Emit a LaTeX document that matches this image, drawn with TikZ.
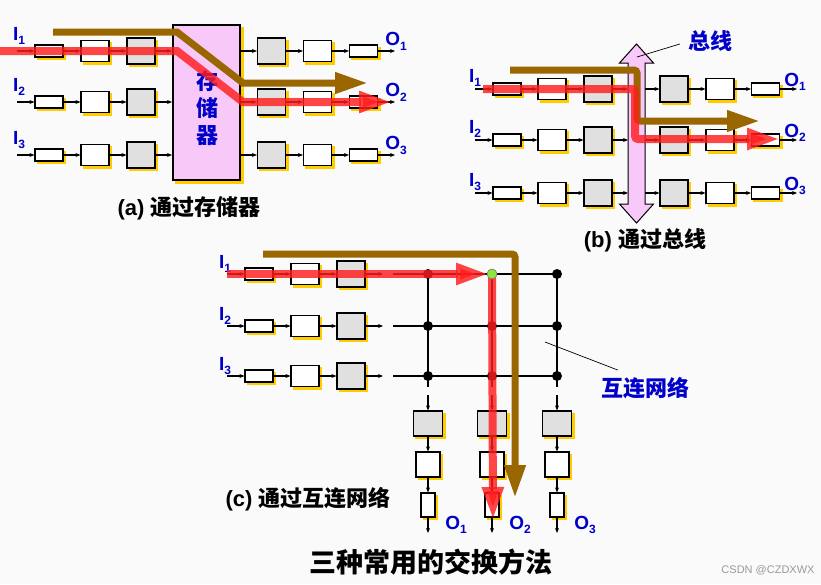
\documentclass[tikz,border=0pt]{standalone}
\usepackage{fontspec}
\setmainfont{Liberation Sans}
\newfontfamily\cjk{Noto Sans CJK SC}
\usetikzlibrary{arrows.meta}

\definecolor{shadowy}{RGB}{255,204,0}
\definecolor{boxgray}{RGB}{224,224,224}
\definecolor{mempink}{RGB}{248,200,248}
\definecolor{pathbrown}{RGB}{153,102,0}
\definecolor{pathred}{RGB}{255,30,30}
\definecolor{lblblue}{RGB}{0,0,200}
\definecolor{dotgreen}{RGB}{140,230,60}
\definecolor{bgwhite}{RGB}{250,250,250}

\newcommand{\lbl}[2]{#1\raisebox{-0.45ex}{\fontsize{12}{12}\selectfont #2}}
\newcommand{\zh}[1]{{\cjk #1}}

\tikzset{
	blk/.style={draw, line width=1.2pt, inner sep=0pt,
		preaction={draw=shadowy, fill=shadowy, transform canvas={xshift=2.5pt, yshift=-2.5pt}}},
	sbox/.style={blk, fill=white, minimum width=28pt, minimum height=12pt},
	mbox/.style={blk, fill=white, minimum width=28pt, minimum height=21pt},
	gbox/.style={blk, fill=boxgray, minimum width=28pt, minimum height=26pt},
	csbox/.style={blk, fill=white, minimum width=14pt, minimum height=24pt},
	cmbox/.style={blk, fill=white, minimum width=24pt, minimum height=25pt},
	cgbox/.style={blk, fill=boxgray, minimum width=29pt, minimum height=25pt},
	membox/.style={draw, line width=2pt, inner sep=0pt, fill=mempink, minimum width=67pt, minimum height=155pt,
		preaction={draw=shadowy, fill=shadowy, transform canvas={xshift=3pt, yshift=-3pt}}},
	memtxt/.style={font=\cjk\bfseries\fontsize{22}{27}\selectfont, text=lblblue, align=center},
	conn/.style={line width=1.1pt, -{Stealth[length=5pt,width=4pt]}},
	wire/.style={line width=2pt},
	jdot/.style={circle, fill=black, inner sep=0pt, minimum size=10pt},
	lab/.style={font=\fontsize{19}{19}\selectfont\bfseries, text=lblblue, inner sep=0pt},
	captext/.style={font=\fontsize{22}{24}\selectfont\bfseries, inner sep=0pt},
	brownpath/.style={pathbrown, line width=7pt, -{Triangle[length=33pt,width=20pt]}},
	redpath/.style={pathred, opacity=0.82, line width=8pt, -{Triangle[length=33pt,width=20pt]}},
	busarrow/.style={draw=black, line width=1pt, fill=mempink},
	leader/.style={line width=0.7pt}
}

\begin{document}
\begin{tikzpicture}[x=1pt,y=-1pt]
	\fill[bgwhite] (0,0) rectangle (821,584);
	\useasboundingbox (0,0) rectangle (821,584);

	% (a) through memory
	\node[membox] (mem) at (206.5,102.5) {};
	\node[memtxt] (memlab) at (207,108) {存\\储\\器};
	\foreach \r/\y in {1/51,2/102,3/155}{
		\coordinate (ain\r) at (17,\y);
		\coordinate (aout\r) at (395,\y);
		\node[sbox] (as\r) at (49,\y) {};
		\node[mbox] (am\r) at (95,\y) {};
		\node[gbox] (ag\r) at (141,\y) {};
		\node[gbox] (ah\r) at (271.5,\y) {};
		\node[mbox] (an\r) at (317.5,\y) {};
		\node[sbox] (at\r) at (363.5,\y) {};
		\draw[conn] (ain\r) -- (as\r);
		\draw[conn] (as\r) -- (am\r);
		\draw[conn] (am\r) -- (ag\r);
		\draw[conn] (ag\r) -- (ag\r -| mem.west);
		\draw[conn] (ah\r -| mem.east) -- (ah\r);
		\draw[conn] (ah\r) -- (an\r);
		\draw[conn] (an\r) -- (at\r);
		\draw[conn] (at\r) -- (aout\r);
		\node[lab] (aI\r) at (19,\y-15) {\lbl{I}{\r}};
		\node[lab] (aO\r) at (396,\y-9.5) {\lbl{O}{\r}};
	}
	\draw[brownpath] (53,32) -- (177,32) -- (243,83) -- (368,83);
	\draw[redpath] (0,51) -- (177,51) -- (243,102) -- (392,102);
	\node[captext] (acap) at (189,208) {(a) \zh{通过存储器}};

	% (b) through bus
	\coordinate (busL) at (628,0);
	\coordinate (busR) at (645,0);
	\foreach \r/\y in {1/89,2/140,3/193}{
		\coordinate (bin\r) at (475,\y);
		\coordinate (bout\r) at (797,\y);
		\node[sbox] (bs\r) at (507,\y) {};
		\node[mbox] (bm\r) at (552,\y) {};
		\node[gbox] (bg\r) at (598,\y) {};
		\node[gbox] (bh\r) at (674,\y) {};
		\node[mbox] (bn\r) at (720,\y) {};
		\node[sbox] (bt\r) at (765.5,\y) {};
		\draw[conn] (bin\r) -- (bs\r);
		\draw[conn] (bs\r) -- (bm\r);
		\draw[conn] (bm\r) -- (bg\r);
		\draw[conn] (bg\r) -- (bg\r -| busL);
		\draw[conn] (bh\r -| busR) -- (bh\r);
		\draw[conn] (bh\r) -- (bn\r);
		\draw[conn] (bn\r) -- (bt\r);
		\draw[conn] (bt\r) -- (bout\r);
		\node[lab] (bI\r) at (475,\y-11) {\lbl{I}{\r}};
		\node[lab] (bO\r) at (795,\y-7) {\lbl{O}{\r}};
	}
	\draw[busarrow] (636.5,44) -- (653.5,63) -- (645,63) -- (645,204) -- (653.5,204) -- (636.5,223)
		-- (619.5,204) -- (628,204) -- (628,63) -- (619.5,63) -- cycle;
	\node[memtxt, inner sep=0pt] (buslab) at (710,41) {总线};
	\draw[leader] (637,57) -- ([xshift=-8pt,yshift=-3pt]buslab.west);
	\draw[brownpath, rounded corners=3pt] (510,70) -- (637,70) -- (637,121) -- (760,121);
	\draw[redpath, rounded corners=3pt] (483,89) -- (635,89) -- (635,139) -- (780,139);
	\node[captext] (bcap) at (645,240) {(b) \zh{通过总线}};

	% (c) through interconnection network
	\foreach \c/\x in {1/428,2/492,3/557}{
		\foreach \r/\y in {1/274,2/326,3/376}{
			\coordinate (x\c\r) at (\x,\y);
		}
		\coordinate (cb\c) at (\x,387);
		\coordinate (ct\c) at (\x,395);
		\coordinate (ke\c) at (\x,533);
	}
	\foreach \r/\y in {1/274,2/326,3/376}{
		\coordinate (cin\r) at (227,\y);
		\coordinate (cend\r) at (383,\y);
		\coordinate (cw\r) at (393,\y);
		\node[sbox] (cs\r) at (259,\y) {};
		\node[mbox] (cm\r) at (305,\y) {};
		\node[gbox] (cg\r) at (351,\y) {};
		\draw[conn] (cin\r) -- (cs\r);
		\draw[conn] (cs\r) -- (cm\r);
		\draw[conn] (cm\r) -- (cg\r);
		\draw[conn] (cg\r) -- (cend\r);
		\draw[wire] (cw\r) -- (x3\r);
		\node[lab] (cI\r) at (225,\y-10) {\lbl{I}{\r}};
	}
	\foreach \c/\x in {1/428,2/492,3/557}{
		\draw[wire] (x\c1) -- (cb\c);
		\node[cgbox] (kg\c) at (\x,423.5) {};
		\node[cmbox] (km\c) at (\x,464.5) {};
		\node[csbox] (ks\c) at (\x,505) {};
		\draw[conn] (ct\c) -- (kg\c);
		\draw[conn] (kg\c) -- (km\c);
		\draw[conn] (km\c) -- (ks\c);
		\draw[conn] (ks\c) -- (ke\c);
		\node[lab] (cO\c) at (\x+28,525) {\lbl{O}{\c}};
		\foreach \r in {1,2,3}{
			\node[jdot] (d\c\r) at (x\c\r) {};
		}
	}
	\draw[brownpath, rounded corners=3pt] (263,254) -- (515,254) -- (515,498);
	\draw[redpath] (227,274) -- (489,274);
	\draw[redpath] (x21) -- (493,520);
	\node[jdot, fill=dotgreen, draw=gray, line width=0.6pt] (dsw) at (x21) {};
	\node[memtxt, inner sep=0pt] (netlab) at (645,388) {互连网络};
	\draw[leader] (545,342) -- ([xshift=17pt,yshift=7pt]netlab.north west);
	\node[captext] (ccap) at (308,499) {(c) \zh{通过互连网络}};

	% title
	\node[captext, font=\cjk\bfseries\fontsize{27}{30}\selectfont] (title) at (431,562) {三种常用的交换方法};
	\node[font=\fontsize{11}{11}\selectfont, text=black!40, inner sep=0pt] (mark) at (768,570) {CSDN @CZDXWX};
\end{tikzpicture}
\end{document}
